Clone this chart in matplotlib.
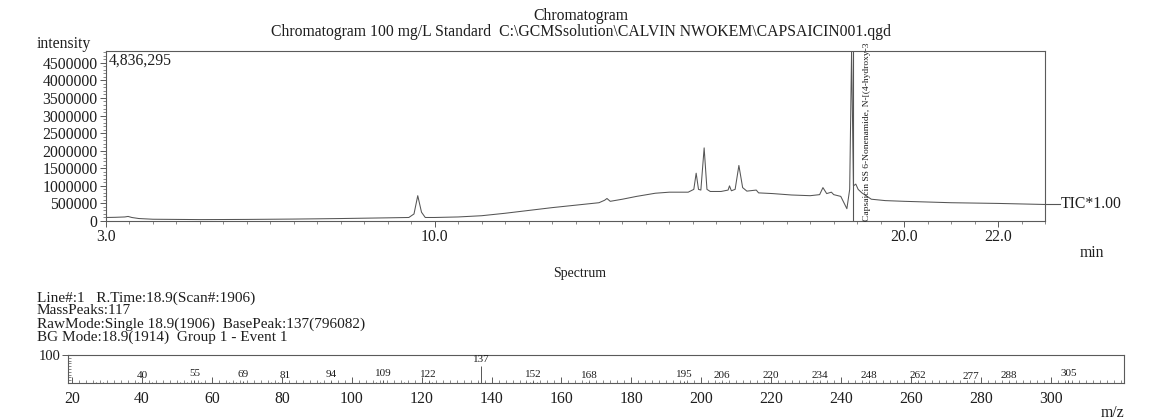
import matplotlib
matplotlib.use("Agg")
import matplotlib.pyplot as plt
from matplotlib.ticker import MultipleLocator, FixedLocator
import matplotlib.transforms as mtrans

plt.rcParams['font.family'] = ['Liberation Serif', 'DejaVu Serif']

# ---------------- data ----------------
# chromatogram (time in min, intensity in counts)
chrom_time = [3.0, 3.2, 3.4, 3.47, 3.55, 3.7, 4.0, 4.5, 5.0, 5.5, 6.0, 6.5, 7.0, 7.5, 8.0,
              8.5, 9.0, 9.45, 9.56, 9.64, 9.72, 9.8, 10.0, 10.5, 11.0, 11.5, 12.0, 12.5,
              13.0, 13.5, 13.62, 13.67, 13.74, 14.0, 14.3, 14.7, 15.0, 15.4, 15.52, 15.57,
              15.62, 15.67, 15.74, 15.8, 15.87, 16.1, 16.25, 16.28, 16.32, 16.4, 16.48,
              16.56, 16.65, 16.85, 16.9, 17.2, 17.6, 18.0, 18.2, 18.27, 18.35, 18.45,
              18.5, 18.65, 18.78, 18.84, 18.88, 18.92, 18.97, 19.02, 19.1, 19.3, 19.6,
              20.0, 21.0, 22.0, 23.0]
chrom_int = [100000, 105000, 115000, 130000, 100000, 70000, 50000, 45000, 40000, 42000,
             45000, 50000, 55000, 62000, 70000, 80000, 90000, 100000, 200000, 720000,
             250000, 100000, 100000, 115000, 150000, 220000, 300000, 380000, 450000,
             520000, 590000, 640000, 560000, 620000, 700000, 790000, 820000, 820000,
             900000, 1360000, 900000, 880000, 2080000, 900000, 840000, 840000, 880000,
             1000000, 860000, 900000, 1580000, 950000, 850000, 880000, 800000, 780000,
             740000, 720000, 750000, 950000, 780000, 820000, 750000, 700000, 350000,
             900000, 4836295, 1000000, 1050000, 900000, 800000, 620000, 580000,
             560000, 520000, 500000, 470000]
chrom_xticks = [3.0, 10.0, 20.0, 22.0]
chrom_yticks = [0, 500000, 1000000, 1500000, 2000000, 2500000, 3000000, 3500000,
                4000000, 4500000]
peak_rt = 18.9
peak_name = "Capsaicin SS 6-Nonenamide, N-[(4-hydroxy-3"
max_label = "4,836,295"

# mass spectrum (m/z, relative intensity %)
ms_labeled_mz = [40, 55, 69, 81, 94, 109, 122, 137, 152, 168, 195, 206, 220, 234,
                 248, 262, 277, 288, 305]
ms_labeled_int = [4, 9, 8, 4, 6, 9, 6, 60, 6, 3, 6, 3, 3, 4, 4, 5, 1, 2, 12]
ms_small_mz = [27, 29, 39, 41, 43, 51, 53, 57, 65, 67, 77, 79, 91, 107, 115, 121,
               123, 136, 138, 150, 151, 153, 167, 180, 194, 196, 205, 207, 219, 233,
               247, 261, 276, 287, 304, 306]
ms_small_int = [2, 2, 2, 3, 3, 2, 3, 3, 3, 3, 3, 3, 3, 3, 2, 3, 3, 5, 5, 3, 3, 2,
                2, 2, 2, 2, 2, 2, 2, 2, 2, 2, 1, 1, 3, 3]
ms_xticks = list(range(20, 301, 20))

line_col = '#555555'
spine_col = '#5a5a5a'
txt_col = '#1e1e1e'
FS = 11.3

fig = plt.figure(figsize=(11.49, 4.20), dpi=100)

# ---------------- chromatogram ----------------
ax = fig.add_axes([106/1149, 1-221/420, (1045-106)/1149, (221-51)/420])
ax.plot(chrom_time, chrom_int, color=line_col, lw=0.75)
ax.set_xlim(3.0, 23.0)
ax.set_ylim(0, 4836295)
ax.xaxis.set_major_locator(FixedLocator(chrom_xticks))
ax.xaxis.set_minor_locator(MultipleLocator(0.5))
ax.set_xticklabels([f"{v:.1f}" for v in chrom_xticks])
ax.yaxis.set_major_locator(FixedLocator(chrom_yticks))
ax.yaxis.set_minor_locator(MultipleLocator(100000))
ax.set_yticklabels([str(v) for v in chrom_yticks])
for s in ax.spines.values():
    s.set_color(spine_col)
    s.set_linewidth(0.8)
ax.tick_params(axis='both', which='major', direction='out', length=4, width=0.7,
               color=spine_col, labelsize=FS, labelcolor=txt_col, pad=2)
ax.tick_params(axis='both', which='minor', direction='out', length=2, width=0.5,
               color=spine_col)
ax.axvline(peak_rt, color=line_col, lw=0.8)
ax.text(peak_rt + 0.3, 0, peak_name, rotation=90, fontsize=6.8, ha='center',
        va='bottom', color=txt_col)
ax.text(3.05, 4836295 * 0.99, max_label, fontsize=FS, ha='left', va='top',
        color=txt_col)
trans = mtrans.blended_transform_factory(ax.transAxes, ax.transData)
ax.plot([1.0, 1.016], [chrom_int[-1], chrom_int[-1]], color=line_col, lw=0.8,
        transform=trans, clip_on=False)
ax.text(1.017, chrom_int[-1], "TIC*1.00", transform=trans, fontsize=FS,
        ha='left', va='center', color=txt_col)

fig.text(37/1149, 1-44/420, "intensity", fontsize=FS, ha='left', va='center',
         color=txt_col)
fig.text(581/1149, 1-16/420, "Chromatogram", fontsize=FS, ha='center',
         va='center', color=txt_col)
fig.text(581/1149, 1-32/420,
         "Chromatogram 100 mg/L Standard  C:\\GCMSsolution\\CALVIN NWOKEM\\CAPSAICIN001.qgd",
         fontsize=FS, ha='center', va='center', color=txt_col)
fig.text(1092/1149, 1-253/420, "min", fontsize=FS, ha='center', va='center',
         color=txt_col)

# ---------------- spectrum ----------------
fig.text(580/1149, 1-273/420, "Spectrum", fontsize=10, ha='center', va='center',
         color=txt_col)
info = ["Line#:1   R.Time:18.9(Scan#:1906)",
        "MassPeaks:117",
        "RawMode:Single 18.9(1906)  BasePeak:137(796082)",
        "BG Mode:18.9(1914)  Group 1 - Event 1"]
for i, t in enumerate(info):
    fig.text(37/1149, 1-(298+13*i)/420, t, fontsize=11, ha='left', va='center',
             color=txt_col)

ax2 = fig.add_axes([68/1149, 1-383/420, (1124-68)/1149, (383-355)/420])
ax2.vlines(ms_small_mz, 0, ms_small_int, color=line_col, lw=0.6)
ax2.vlines(ms_labeled_mz, 0, ms_labeled_int, color=line_col, lw=0.7)
for mz, v in zip(ms_labeled_mz, ms_labeled_int):
    ax2.annotate(str(mz), (mz, v), xytext=(0, 1.5), textcoords='offset points',
                 ha='center', va='bottom', fontsize=8, color=txt_col)
ax2.set_xlim(18.86, 320.9)
ax2.set_ylim(0, 100)
ax2.xaxis.set_major_locator(FixedLocator(ms_xticks))
ax2.xaxis.set_minor_locator(MultipleLocator(2))
ax2.set_yticks([100])
ax2.set_yticklabels(["100"])
ax2.yaxis.set_minor_locator(MultipleLocator(10))
for s in ax2.spines.values():
    s.set_color(spine_col)
    s.set_linewidth(0.8)
ax2.tick_params(axis='x', which='major', direction='in', length=4, width=0.7,
                color=spine_col, labelsize=FS, labelcolor=txt_col, pad=6)
ax2.tick_params(axis='x', which='minor', direction='in', length=2, width=0.5,
                color=spine_col)
ax2.tick_params(axis='y', which='major', direction='out', length=4, width=0.7,
                color=spine_col, labelsize=10.5, labelcolor=txt_col, pad=1)
ax2.tick_params(axis='y', which='minor', direction='in', length=2, width=0.5,
                color=spine_col)
fig.text(1113/1149, 1-413/420, "m/z", fontsize=FS, ha='center', va='center',
         color=txt_col)

fig.savefig("out.png", dpi=100, facecolor='white')
